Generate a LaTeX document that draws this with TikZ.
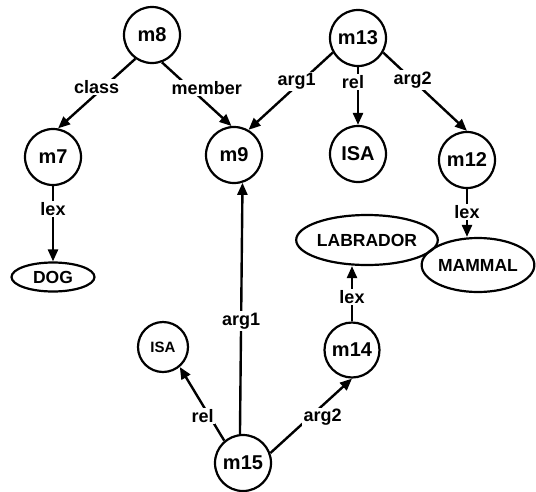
\documentclass[tikz,border=0pt]{standalone}
\usepackage{fontspec}
\setmainfont{Liberation Sans}
\usetikzlibrary{arrows.meta,shapes.geometric}

\tikzset{
  mnode/.style={draw, circle, line width=2.2pt, minimum size=56pt, inner sep=0pt, font=\bfseries\fontsize{20}{20}\selectfont},
  wnode/.style={draw, ellipse, line width=2.2pt, inner sep=0pt, font=\bfseries\fontsize{17.5}{18}\selectfont},
  arc/.style={line width=2.4pt, -{Triangle[length=12pt,width=10pt]}},
  lbl/.style={fill=white, inner sep=1.5pt, font=\bfseries\fontsize{18}{18}\selectfont}
}

\begin{document}
\begin{tikzpicture}[x=1pt,y=-1pt]
            \useasboundingbox (0,0) rectangle (536,491);

            % upper part
            \node[mnode] (m8) at (152,35) {m8};
            \node[mnode] (m13) at (358,38) {m13};
            \node[mnode] (m7) at (53,157) {m7};
            \node[mnode] (m9) at (234,155) {m9};
            \node[mnode] (isa1) at (358,154) {ISA};
            \node[mnode] (m12) at (467,160) {m12};

            \node[wnode, minimum width=83pt, minimum height=29pt] (dog) at (53,277) {DOG};
            \node[wnode, minimum width=111pt, minimum height=50pt] (labrador) at (367,240) {LABRADOR};
            \node[wnode, minimum width=110pt, minimum height=54pt] (mammal) at (478,265) {MAMMAL};

            % lower part
            \node[mnode, minimum size=50pt, font=\bfseries\fontsize{15}{15}\selectfont] (isa2) at (163,347) {ISA};
            \node[mnode, minimum size=55pt] (m14) at (352,350) {m14};
            \node[mnode] (m15) at (243,463) {m15};

            \draw[arc] (m8.-125) -- node[lbl, pos=0.41, xshift=-7pt] {class} (m7.80);
            \draw[arc] (m8.-70) -- node[lbl, pos=0.4, xshift=17pt] {member} (m9.95);
            \draw[arc] (m13.-150) -- node[lbl, pos=0.37, xshift=-5pt] {arg1} (m9.60);
            \draw[arc] (m13) -- node[lbl, pos=0.26, xshift=-5pt] {rel} (isa1);
            \draw[arc] (m13.-30) -- node[lbl, pos=0.35] {arg2} (m12.north);
            \draw[arc] (m7) -- node[lbl, pos=0.3] {lex} (dog);
            \draw[arc] (m12) -- node[lbl, pos=0.48] {lex} (m12 |- mammal.north);
            \draw[arc] (m14) -- node[lbl, pos=0.44] {lex} (m14 |- labrador.south);

            \draw[arc] (m15.96) -- node[lbl, pos=0.45] {arg1} (m9.-73);
            \draw[arc] (m15.130) -- node[lbl, pos=0.33, xshift=-7pt] {rel} (isa2.-50);
            \draw[arc] (m15.20) -- node[lbl, pos=0.48, xshift=13pt] {arg2} (m14.south);
        \end{tikzpicture}
\end{document}
